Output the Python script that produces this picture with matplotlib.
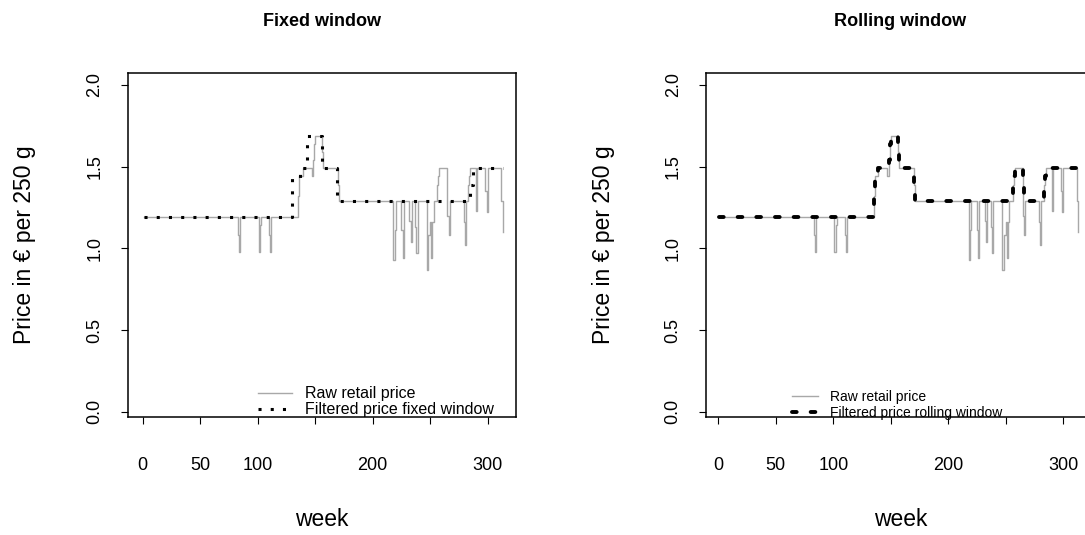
import numpy as np
import matplotlib
matplotlib.use("Agg")
import matplotlib.pyplot as plt

plt.rcParams["font.family"] = ["Liberation Sans", "DejaVu Sans"]

# weekly prices, stored as run-length segments (start week, price)
n_weeks = 313
raw_start = [1, 83, 84, 85, 101, 102, 103, 110, 111, 112, 135, 136, 139, 147, 148,
             149, 150, 156, 157, 170, 171, 218, 219, 220, 225, 226, 227, 232, 233,
             234, 237, 238, 239, 247, 248, 250, 251, 252, 253, 256, 257, 258, 265,
             266, 267, 279, 280, 281, 283, 284, 285, 290, 291, 298, 299, 300, 312, 313]
raw_price = [1.19, 1.08, 0.98, 1.19, 0.98, 1.14, 1.19, 1.08, 0.98, 1.19, 1.32, 1.44,
             1.49, 1.44, 1.54, 1.64, 1.69, 1.59, 1.49, 1.39, 1.29, 0.93, 1.11, 1.29,
             1.11, 0.94, 1.29, 1.17, 1.04, 1.29, 1.13, 0.97, 1.29, 0.87, 1.08, 1.16,
             0.94, 1.16, 1.29, 1.39, 1.44, 1.49, 1.20, 1.08, 1.29, 1.16, 1.02, 1.29,
             1.39, 1.44, 1.49, 1.23, 1.49, 1.35, 1.22, 1.49, 1.29, 1.10]

fixed_start = [1, 130, 137, 143, 156, 169, 285, 287]
fixed_price = [1.19, 1.43, 1.49, 1.69, 1.49, 1.29, 1.39, 1.49]

rolling_start = [1, 135, 136, 139, 148, 149, 150, 156, 157, 170, 171, 256, 257, 258,
                 265, 266, 283, 284, 285]
rolling_price = [1.19, 1.32, 1.44, 1.49, 1.54, 1.64, 1.69, 1.59, 1.49, 1.39, 1.29,
                 1.39, 1.44, 1.49, 1.39, 1.29, 1.39, 1.44, 1.49]

x_ticks = [0, 50, 100, 150, 200, 250, 300]
x_ticklabels = ["0", "50", "100", "", "200", "", "300"]
y_ticks = [0.0, 0.5, 1.0, 1.5, 2.0]


def expand(starts, values):
    ends = starts[1:] + [n_weeks + 1]
    lengths = np.array(ends) - np.array(starts)
    return np.repeat(values, lengths)


weeks = np.arange(1, n_weeks + 1)
raw = expand(raw_start, raw_price)
fixed = expand(fixed_start, fixed_price)
rolling = expand(rolling_start, rolling_price)

W, H = 1085, 535
fig = plt.figure(figsize=(W / 100, H / 100), dpi=100)
ax1 = fig.add_axes([127.5 / W, (H - 417) / H, 388.5 / W, 344.3 / H])
ax2 = fig.add_axes([706 / W, (H - 417) / H, 388.5 / W, 344.3 / H])

gray = "#a8a8a8"

ax1.plot(weeks, raw, color=gray, lw=1.0, drawstyle="steps-post",
         label="Raw retail price")
ax1.plot(weeks, fixed, color="black", lw=2.2, drawstyle="steps-post",
         dashes=(1, 3), dash_capstyle="butt", label="Filtered price fixed window")

ax2.plot(weeks, raw, color=gray, lw=1.0, drawstyle="steps-post",
         label="Raw retail price")
ax2.plot(weeks, rolling, color="black", lw=2.8, drawstyle="steps-post",
         dashes=(1.2, 3.6), dash_capstyle="round", label="Filtered price rolling window")

setup = [(ax1, "Fixed window", -13.2, 0.336, 0.0444, 11.5, 2.1, 0.85, 0.05),
         (ax2, "Rolling window", -10.7, 0.2214, 0.0357, 10, 1.87, 0.86, 0.12)]
for ax, title, x0, lx, ly, lfs, hl, htp, lsp in setup:
    ax.set_xlim(x0, x0 + 388.5 / 1.15)
    ax.set_ylim(-0.032, 2.075)
    ax.set_xticks(x_ticks)
    ax.set_xticklabels(x_ticklabels)
    ax.set_yticks(y_ticks)
    ax.set_yticklabels([f"{v:.1f}" for v in y_ticks])
    ax.tick_params(axis="both", direction="out", length=5, width=0.8, labelsize=13,
                   color="black")
    ax.tick_params(axis="x", pad=24)
    ax.tick_params(axis="y", pad=12.5, labelrotation=90)
    for lab in ax.get_yticklabels():
        lab.set_va("center")
    for sp in ax.spines.values():
        sp.set_linewidth(1.1)
    ax.set_title(title, fontsize=13, fontweight="bold", y=1.15, pad=0, va="center")
    ax.set_xlabel("week", fontsize=16.5)
    ax.xaxis.set_label_coords(0.5, -0.297)
    ax.xaxis.label.set_va("center")
    ax.set_ylabel("Price in \u20ac per 250 g", fontsize=16.5)
    ax.yaxis.set_label_coords(-0.264, 0.5)
    ax.yaxis.label.set_va("center")
    ax.legend(loc="center left", bbox_to_anchor=(lx, ly), frameon=False,
              fontsize=lfs, handlelength=hl, handletextpad=htp, borderpad=0,
              borderaxespad=0, labelspacing=lsp)

fig.savefig("out.png", dpi=100)
